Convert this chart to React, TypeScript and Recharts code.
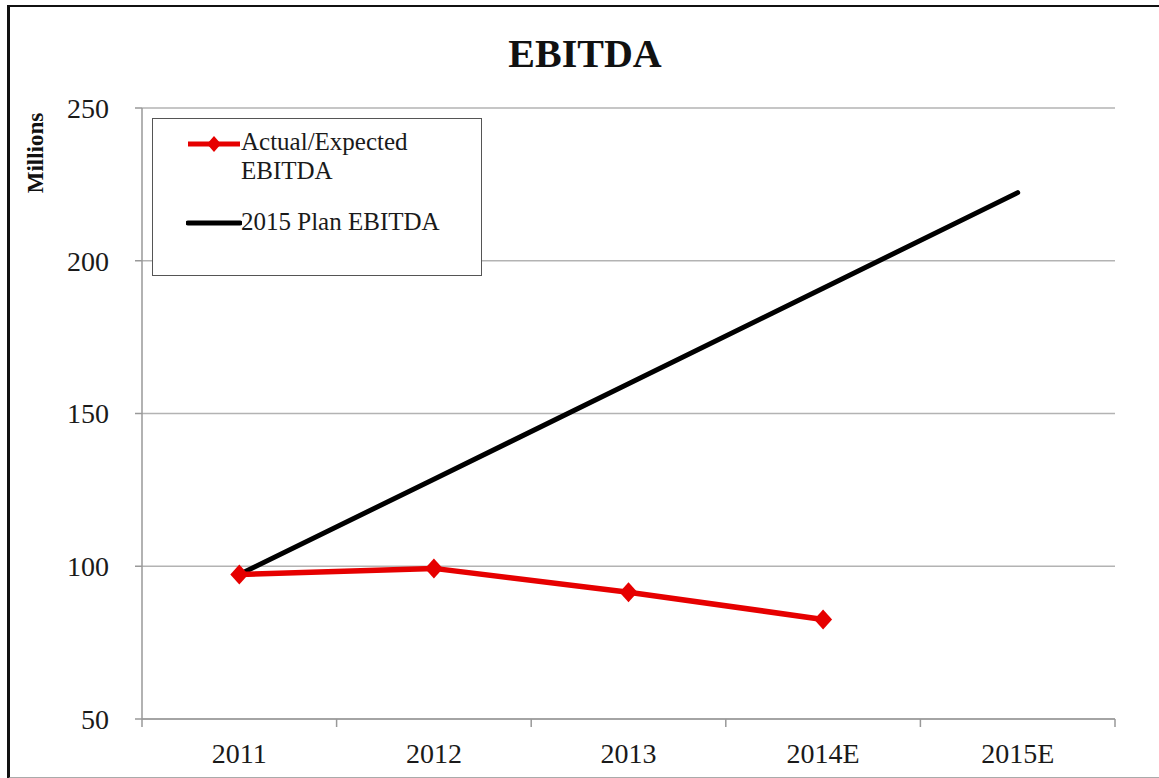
import { LineChart, Line, XAxis, YAxis, CartesianGrid, Legend } from 'recharts'

// categories and series
const years = ['2011', '2012', '2013', '2014E', '2015E']
const actualEbitda: (number | null)[] = [97.3, 99.3, 91.5, 82.6, null]
const planEbitda = [97.3, 128.5, 159.7, 191.0, 222.3]
const yTicks = [50, 100, 150, 200, 250]

const seriesNames = ['Actual/Expected EBITDA', '2015 Plan EBITDA']
const RED = '#e60000'
const FONT = "'Liberation Serif', 'DejaVu Serif', serif"

const data = years.map((year, i) => ({
  year,
  actual: actualEbitda[i],
  plan: planEbitda[i],
}))

function Diamond({ cx, cy, fill }: { cx?: number; cy?: number; fill: string }) {
  if (cx == null || cy == null) return null
  return <path d={`M${cx} ${cy - 10} L${cx + 9} ${cy} L${cx} ${cy + 10} L${cx - 9} ${cy} Z`} fill={fill} />
}

// x tick: label at band centre, tick marks at band boundaries
function XTick(props: any) {
  const { x, y, payload, index, visibleTicksCount } = props
  const half = payload?.offset || 97
  const isLast = index === visibleTicksCount - 1
  return (
    <g>
      <line x1={x - half} y1={y - 8} x2={x - half} y2={y} stroke="#999" strokeWidth={1.5} />
      {isLast && <line x1={x + half} y1={y - 8} x2={x + half} y2={y} stroke="#999" strokeWidth={1.5} />}
      <text x={x} y={y + 36} textAnchor="middle" style={{ fontFamily: FONT }} fontSize={28} fill="#1a1a1a">
        {payload.value}
      </text>
    </g>
  )
}

function LegendBox() {
  return (
    <div
      style={{
        width: 330,
        height: 158,
        boxSizing: 'border-box',
        border: '1.5px solid #555',
        background: '#fff',
        fontFamily: FONT,
        fontSize: 25,
        color: '#1a1a1a',
        position: 'relative',
      }}
    >
      <svg width={56} height={20} style={{ position: 'absolute', left: 33, top: 15 }}>
        <line x1={2} y1={10} x2={54} y2={10} stroke={RED} strokeWidth={5} />
        <path d="M28 2 L35 10 L28 18 L21 10 Z" fill={RED} />
      </svg>
      <div style={{ position: 'absolute', left: 88, top: 8, lineHeight: '29px' }}>
        {'Actual/Expected'}
        <br />
        {'EBITDA'}
      </div>
      <svg width={56} height={20} style={{ position: 'absolute', left: 33, top: 94 }}>
        <line x1={2} y1={10} x2={54} y2={10} stroke="#000" strokeWidth={5} strokeLinecap="round" />
      </svg>
      <div style={{ position: 'absolute', left: 88, top: 88, lineHeight: '29px' }}>{seriesNames[1]}</div>
    </div>
  )
}

export default function App() {
  return (
    <div style={{ position: 'absolute', left: 0, top: 0, width: 1159, height: 778, background: '#fff', overflow: 'hidden' }}>
      <div
        style={{
          position: 'absolute',
          left: 7,
          top: 5,
          width: 1200,
          height: 770,
          borderTop: '2.5px solid #111',
          borderLeft: '3px solid #111',
          borderBottom: '2px solid #aaa',
        }}
      />
      <div
        style={{
          position: 'absolute',
          left: 0,
          top: 30,
          width: 1170,
          textAlign: 'center',
          fontFamily: FONT,
          fontWeight: 'bold',
          fontSize: 40,
          color: '#111',
        }}
      >
        EBITDA
      </div>
      <div style={{ position: 'absolute', left: 0, top: 0 }}>
        <LineChart width={1159} height={778} data={data} margin={{ top: 108, right: 44, left: 0, bottom: 9 }}>
          <CartesianGrid vertical={false} stroke="#b3b3b3" strokeWidth={1.5} />
          <XAxis
            dataKey="year"
            scale="band"
            height={50}
            axisLine={{ stroke: '#999', strokeWidth: 1.5 }}
            tickLine={false}
            tick={<XTick />}
            interval={0}
          />
          <YAxis
            domain={[50, 250]}
            ticks={yTicks}
            width={142}
            axisLine={{ stroke: '#999', strokeWidth: 1.5 }}
            tickLine={{ stroke: '#999', strokeWidth: 1.5 }}
            tickSize={7}
            tickMargin={26}
            tick={{ style: { fontFamily: FONT }, fontSize: 28, fill: '#1a1a1a' }}
            label={{
              content: ({ viewBox }: any) => (
                <text
                  x={(viewBox?.x ?? 0) + 43}
                  y={(viewBox?.y ?? 108) + 45}
                  transform={`rotate(-90 ${(viewBox?.x ?? 0) + 43} ${(viewBox?.y ?? 108) + 45})`}
                  textAnchor="middle"
                  style={{ fontFamily: FONT }}
                  fontWeight="bold"
                  fontSize={23}
                  fill="#111"
                >
                  Millions
                </text>
              ),
            }}
          />
          <Legend
            layout="vertical"
            align="center"
            verticalAlign="middle"
            wrapperStyle={{ left: 152, top: 118, width: 330, height: 158 }}
            content={() => <LegendBox />}
          />
          <Line
            dataKey="plan"
            name={seriesNames[1]}
            stroke="#000"
            strokeWidth={5}
            strokeLinecap="round"
            dot={false}
            activeDot={false}
            isAnimationActive={false}
          />
          <Line
            dataKey="actual"
            name={seriesNames[0]}
            stroke={RED}
            strokeWidth={5.5}
            dot={(p: any) => <Diamond key={p.index} cx={p.cx} cy={p.cy} fill={RED} />}
            activeDot={false}
            connectNulls={false}
            isAnimationActive={false}
          />
        </LineChart>
      </div>
    </div>
  )
}
